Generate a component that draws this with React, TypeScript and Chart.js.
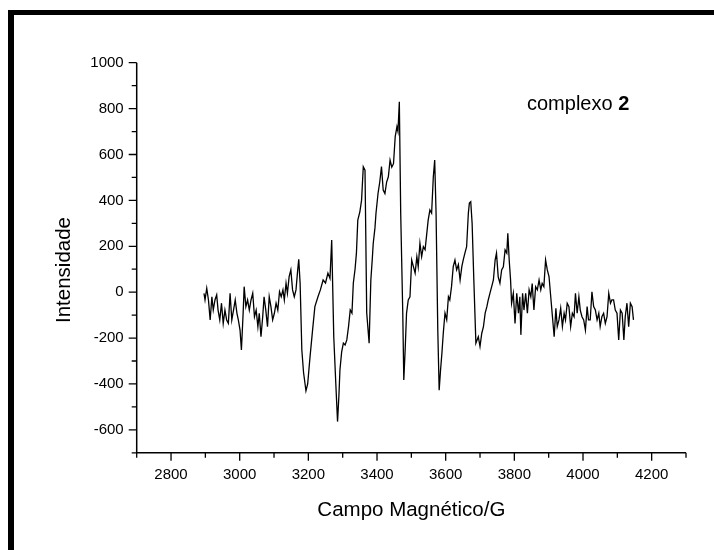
import React, { useEffect, useRef } from "react";
import { Chart, registerables } from "chart.js";

Chart.register(...registerables);

// Magnetic field (G) and intensity
const fieldG = [
  2896, 2899, 2904, 2909, 2914, 2919, 2923, 2928, 2933,
  2937, 2942, 2947, 2952, 2957, 2962, 2967, 2972, 2977, 2982, 2987, 2992, 2996, 3001,
  3005, 3010, 3013, 3018, 3023, 3028, 3033, 3038, 3043, 3048, 3053, 3057, 3062, 3067,
  3071, 3076, 3081, 3086, 3091, 3096, 3101, 3106, 3111, 3116, 3121, 3126, 3130, 3135,
  3139, 3144, 3149, 3154, 3159, 3164, 3169, 3172, 3176, 3181, 3186, 3193, 3198, 3205,
  3212, 3219, 3228, 3235, 3243, 3250, 3257, 3263, 3268,
  3274, 3280, 3285, 3289, 3292, 3297, 3302, 3307, 3312, 3317, 3322, 3327, 3331, 3336,
  3340, 3344, 3350, 3355, 3360, 3365, 3370, 3377, 3382, 3386, 3389, 3394, 3397, 3403, 3408,
  3413, 3418, 3423, 3428, 3433, 3438, 3443, 3448, 3453, 3458, 3461, 3465, 3469, 3475,
  3478, 3482, 3486, 3491, 3496, 3501, 3506, 3511, 3516, 3520, 3525, 3530, 3535, 3540,
  3544, 3549, 3554, 3559, 3564, 3568, 3572, 3577, 3581, 3585, 3589, 3593, 3598, 3603, 3608,
  3612, 3617, 3622, 3627, 3632, 3637, 3642, 3647, 3651, 3656, 3661, 3666, 3669, 3673, 3677,
  3682, 3688, 3695, 3700, 3705, 3710, 3715, 3720, 3724, 3729, 3734, 3739, 3744,
  3748, 3753, 3758, 3763, 3768, 3773, 3778, 3781, 3785, 3789, 3792, 3797, 3802, 3807, 3812,
  3816, 3819, 3824, 3828, 3833, 3838, 3843, 3848, 3852, 3857, 3862, 3867, 3872, 3877,
  3881, 3886, 3891, 3896, 3901, 3906, 3911, 3916, 3921, 3925, 3930, 3935, 3940, 3945,
  3949, 3954, 3959, 3964, 3969, 3974, 3978, 3983, 3988, 3992, 3997, 4002, 4007, 4012,
  4016, 4021, 4026, 4031, 4036, 4041, 4046, 4050, 4055, 4060, 4065, 4070, 4075, 4080,
  4084, 4089, 4094, 4099, 4104, 4109, 4114, 4119, 4123, 4128, 4133, 4138, 4143, 4147,
];

const intensity = [
  -5, -34, 17, -34, -121, -20, -78, -34, -12, -78, -121, -48, -136, -78, -121, -136, -5, -121, -78, -34,
  -92, -121, -165, -252, -92, 24, -63, -34, -78, -34, -5, -107, -78, -150, -92, -194, -107, -20, -78, -150,
  -20, -63, -121, -92, -48, -78, 2, -20, 10, -34, 39, -5, 68, 97, 10, -20, 10, 97, 143, 39,
  -252, -350, -430, -400, -280, -170, -63, -20, 10, 53, 40, 83, 60, 227, -194, -400, -564, -450, -339, -260,
  -222, -230, -208, -150, -77, -91, 40, 100, 170, 314, 350, 401, 547, 532, -91, -222, 53, 140, 213, 280,
  344, 431, 480, 547, 445, 430, 480, 503, 576, 545, 560, 678, 721, 700, 830, 344, -91, -383, -250, -91,
  -34, -20, 140, 111, 83, 155, 111, 213, 155, 198, 185, 242, 314, 358, 344, 503, 576, 344, -165, -427,
  -340, -266, -179, -91, -120, -20, -34, 24, 111, 140, 97, 120, 53, 111, 140, 170, 198, 344, 388, 394,
  300, 53, -222, -194, -237, -180, -150, -91, -63, -34, -4, 24, 53, 140, 170, 67, 39, 97, 111, 184,
  170, 257, 140, 53, -48, -5, -136, -5, -92, -20, -186, -5, -78, -5, -92, 10, -20, 38, -78, 24,
  10, 53, 10, 38, 24, 140, 97, 68, -20, -107, -194, -70, -150, -121, -70, -150, -92, -121, -48, -63,
  -150, -92, -107, -5, -92, -20, -78, -107, -121, -165, -63, -121, -121, 2, -63, -78, -121, -92, -150, -107,
  -92, -136, -107, -5, -48, -34, -34, -78, -92, -208, -78, -92, -208, -107, -48, -150, -48, -63, -121,
];

const xTickLabels = [2800, 3000, 3200, 3400, 3600, 3800, 4000, 4200];
const yTickLabels = [-600, -400, -200, 0, 200, 400, 600, 800, 1000];
const xTitle = "Campo Magnético/G";
const yTitle = "Intensidade";
const noteText = "complexo ";
const noteBold = "2";

const FONT = "'Liberation Sans', Arial, Helvetica, sans-serif";

export default function App() {
  const canvasRef = useRef<HTMLCanvasElement>(null);

  useEffect(() => {
    const canvas = canvasRef.current;
    if (!canvas) return;

    const decor = {
      id: "decor",
      beforeDraw(chart: any) {
        const ctx = chart.ctx;
        ctx.save();
        ctx.fillStyle = "#ffffff";
        ctx.fillRect(0, 0, chart.width, chart.height);
        ctx.restore();
      },
      afterDraw(chart: any) {
        const ctx = chart.ctx;
        const { left, right, top, bottom } = chart.chartArea;
        const xs = chart.scales.x;
        const ys = chart.scales.y;
        ctx.save();
        // outer frame (top and left edges visible)
        ctx.fillStyle = "#000";
        ctx.fillRect(8, 10, chart.width - 8, 5);
        ctx.fillRect(8, 10, 6, chart.height - 10);

        // axes lines
        ctx.strokeStyle = "#000";
        ctx.lineWidth = 1.5;
        ctx.beginPath();
        ctx.moveTo(left, top);
        ctx.lineTo(left, bottom);
        ctx.lineTo(right, bottom);
        ctx.stroke();

        // tick marks
        ctx.lineWidth = 1.3;
        ctx.beginPath();
        for (const t of ys.ticks) {
          const y = ys.getPixelForValue(t.value);
          const len = yTickLabels.includes(t.value) ? 8 : 5;
          ctx.moveTo(left - len, y);
          ctx.lineTo(left, y);
        }
        for (const t of xs.ticks) {
          const x = xs.getPixelForValue(t.value);
          const len = xTickLabels.includes(t.value) ? 8 : 5;
          ctx.moveTo(x, bottom);
          ctx.lineTo(x, bottom + len);
        }
        ctx.stroke();

        // axis titles
        ctx.fillStyle = "#000";
        ctx.font = `20.5px ${FONT}`;
        ctx.textAlign = "center";
        ctx.textBaseline = "alphabetic";
        ctx.fillText(xTitle, (left + right) / 2, 516);
        ctx.save();
        ctx.translate(64, 270);
        ctx.rotate(-Math.PI / 2);
        ctx.textBaseline = "middle";
        ctx.fillText(yTitle, 0, 0);
        ctx.restore();

        // annotation
        ctx.textAlign = "left";
        ctx.textBaseline = "alphabetic";
        ctx.font = `20px ${FONT}`;
        const nx = 527;
        const ny = 110;
        ctx.fillText(noteText, nx, ny);
        const w = ctx.measureText(noteText).width;
        ctx.font = `bold 20px ${FONT}`;
        ctx.fillText(noteBold, nx + w, ny);
        ctx.restore();
      },
    };

    const points = fieldG.map((x, i) => ({ x, y: intensity[i] }));

    const chart = new Chart(canvas, {
      type: "line",
      data: {
        datasets: [
          {
            data: points,
            borderColor: "#000",
            borderWidth: 1.3,
            pointRadius: 0,
            tension: 0,
            fill: false,
          },
        ],
      },
      options: {
        animation: false,
        responsive: false,
        events: [],
        layout: { padding: { left: 0, top: 62.7, right: 28, bottom: 0 } },
        plugins: { legend: { display: false }, tooltip: { enabled: false }, title: { display: false } },
        scales: {
          x: {
            type: "linear",
            min: 2700,
            max: 4300,
            afterFit: (s: any) => {
              s.height = 97.2;
            },
            grid: { display: false, drawTicks: true, tickLength: 8 },
            border: { display: false },
            ticks: {
              stepSize: 100,
              autoSkip: false,
              maxRotation: 0,
              padding: 5,
              color: "#000",
              font: { family: FONT, size: 15 },
              callback: (v: any) => (xTickLabels.includes(Number(v)) ? String(v) : ""),
            },
          },
          y: {
            type: "linear",
            min: -700,
            max: 1000,
            afterFit: (s: any) => {
              s.width = 136.7;
            },
            grid: { display: false, drawTicks: true, tickLength: 8 },
            border: { display: false },
            ticks: {
              stepSize: 100,
              autoSkip: false,
              padding: 5,
              color: "#000",
              font: { family: FONT, size: 15 },
              callback: (v: any) => (yTickLabels.includes(Number(v)) ? String(v) : ""),
            },
          },
        },
      },
      plugins: [decor],
    });

    return () => chart.destroy();
  }, []);

  return (
    <div style={{ position: "absolute", left: 0, top: 0, width: 714, height: 550, background: "#fff" }}>
      <canvas ref={canvasRef} width={714} height={550} style={{ display: "block", width: 714, height: 550 }} />
    </div>
  );
}
